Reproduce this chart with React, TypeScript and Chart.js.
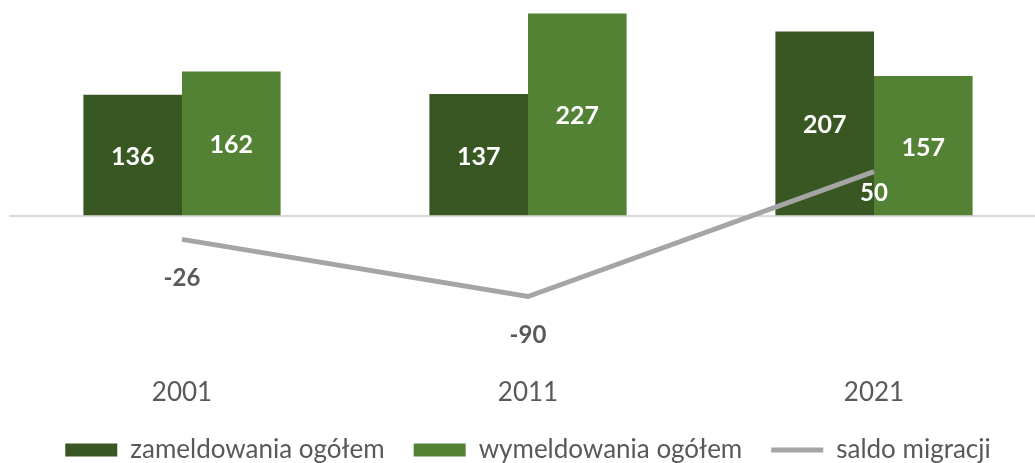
import React, { useEffect, useRef } from "react";
import { Chart, registerables } from "chart.js";

Chart.register(...registerables);

const categories = ["2001", "2011", "2021"];
const zameldowania = [136, 137, 207];
const wymeldowania = [162, 227, 157];
const saldo = [-26, -90, 50];
const seriesNames = ["zameldowania ogółem", "wymeldowania ogółem", "saldo migracji"];

const DARK = "#385723";
const LIGHT = "#548235";
const GRAY = "#A5A5A5";
const TEXT = "#595959";
const FONT = "Lato, 'Open Sans', sans-serif";

const labelsPlugin = {
  id: "valueLabels",
  afterDatasetsDraw(chart: any) {
    const ctx = chart.ctx;
    ctx.save();
    ctx.textAlign = "center";
    ctx.textBaseline = "middle";
    chart.data.datasets.forEach((ds: any, di: number) => {
      const meta = chart.getDatasetMeta(di);
      meta.data.forEach((el: any, i: number) => {
        const v = ds.data[i];
        if (ds.type === "line") {
          ctx.font = `bold 24px ${FONT}`;
          ctx.fillStyle = v > 0 ? "#FFFFFF" : TEXT;
          const off = v > 0 ? 22 : 39;
          ctx.fillText(String(v), el.x, el.y + off);
        } else {
          ctx.font = `bold 25px ${FONT}`;
          ctx.fillStyle = "#FFFFFF";
          ctx.fillText(String(v), el.x, (el.y + el.base) / 2 + 2);
        }
      });
    });
    ctx.restore();
  },
};

export default function App() {
  const ref = useRef<HTMLCanvasElement>(null);
  useEffect(() => {
    if (!ref.current) return;
    const chart = new Chart(ref.current, {
      type: "bar",
      data: {
        labels: categories,
        datasets: [
          {
            type: "bar",
            label: seriesNames[0],
            data: zameldowania,
            backgroundColor: DARK,
            barPercentage: 1,
            categoryPercentage: 0.57,
            order: 1,
          },
          {
            type: "bar",
            label: seriesNames[1],
            data: wymeldowania,
            backgroundColor: LIGHT,
            barPercentage: 1,
            categoryPercentage: 0.57,
            order: 1,
          },
          {
            type: "line",
            label: seriesNames[2],
            data: saldo,
            borderColor: GRAY,
            backgroundColor: GRAY,
            borderWidth: 5,
            pointRadius: 0,
            tension: 0,
            order: 0,
          },
        ] as any,
      },
      options: {
        animation: false,
        responsive: true,
        maintainAspectRatio: false,
        layout: { padding: { left: 9, right: 3, top: 2, bottom: -10 } },
        scales: {
          x: {
            grid: { display: false, drawTicks: false },
            border: { display: false },
            ticks: { color: TEXT, font: { family: FONT, size: 26 }, padding: 0 },
          },
          y: {
            min: -180,
            max: 240,
            display: true,
            border: { display: false },
            grid: {
              drawTicks: false,
              color: (c: any) => (c.tick && c.tick.value === 0 ? "#D9D9D9" : "rgba(0,0,0,0)"),
              lineWidth: 2,
            },
            ticks: { display: false, stepSize: 30 },
          },
        },
        plugins: {
          tooltip: { enabled: false },
          legend: {
            position: "bottom",
            labels: {
              color: TEXT,
              font: { family: FONT, size: 26 },
              usePointStyle: true,
              pointStyleWidth: 52,
              boxHeight: 13,
              padding: 29,
              sort: (a: any, b: any) => a.datasetIndex - b.datasetIndex,
              generateLabels: (ch: any) => {
                const base = Chart.defaults.plugins.legend.labels.generateLabels(ch);
                return base.map((it: any) => {
                  const isLine = it.datasetIndex === 2;
                  return {
                    ...it,
                    pointStyle: isLine ? "line" : "rect",
                    lineWidth: isLine ? 5 : 0,
                    strokeStyle: isLine ? GRAY : it.fillStyle,
                    fontColor: TEXT,
                  };
                });
              },
            },
          },
        },
      },
      plugins: [labelsPlugin],
    });
    return () => chart.destroy();
  }, []);
  return (
    <div style={{ position: "fixed", left: 0, top: 0, width: 1035, height: 463, overflow: "hidden", background: "#fff" }}>
      <div style={{ position: "relative", width: 1050, height: 463 }}>
        <canvas ref={ref} />
      </div>
    </div>
  );
}
